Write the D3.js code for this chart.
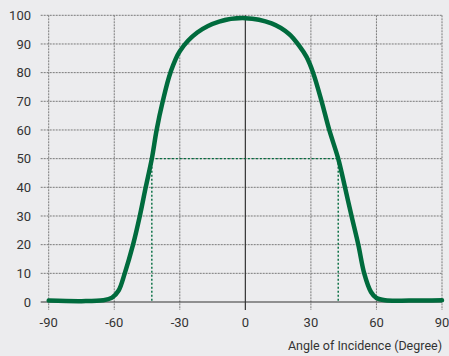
<!DOCTYPE html>
<html>
<head>
<meta charset="utf-8">
<script src="https://cdn.jsdelivr.net/npm/d3@7"></script>
<style>
  body { margin: 0; background: #ececee; }
  svg { display: block; font-family: Roboto, "DejaVu Sans Condensed", sans-serif; }
</style>
</head>
<body>
<svg id="svg1" width="449" height="356"></svg>
<script>
// angle of incidence (degree) and relative value (%)
var angles = [-90, -75, -65, -61, -58, -55.2, -51.4, -48.3, -45.6, -42.8, -40.6, -37.8, -34.3, -30, -22, -12, 0,
              12, 20, 25, 28, 31, 34.9, 38.4, 42.5, 45.6, 48.6, 51.7, 54.4, 57.5, 60, 64, 75, 90];
var values = [0.5, 0.3, 0.6, 1.5, 4, 10, 20, 30, 40, 50, 60, 70, 80, 87.5, 94, 97.8, 99,
              97.2, 93.5, 89, 85.5, 80, 70, 60, 50, 40, 30, 20, 10, 3.5, 1.4, 0.6, 0.5, 0.6];
var halfAngles = [-42.8, 42.5];   // where the curve crosses 50 %
var halfValue = 50;

var xTicks = [-90, -60, -30, 0, 30, 60, 90];
var yTicks = [0, 10, 20, 30, 40, 50, 60, 70, 80, 90, 100];
var xTitle = "Angle of Incidence (Degree)";

var green = "#006b3d";

var svg = d3.select("svg");

var x = d3.scaleLinear().domain([-90, 90]).range([48.7, 442]);
var y = d3.scaleLinear().domain([0, 100]).range([302, 15.3]);

// horizontal grid
svg.append("g").selectAll("line")
    .data(yTicks.filter(function(d){ return d > 0; }))
    .enter().append("line")
    .attr("x1", x(-90) - 8).attr("x2", x(90))
    .attr("y1", function(d){ return y(d); })
    .attr("y2", function(d){ return y(d); })
    .attr("stroke", "#7a7a7a")
    .attr("stroke-width", 1)
    .attr("stroke-dasharray", "2,1");

// vertical grid
svg.append("g").selectAll("line")
    .data(xTicks.filter(function(d){ return d != 0; }))
    .enter().append("line")
    .attr("x1", function(d){ return x(d); })
    .attr("x2", function(d){ return x(d); })
    .attr("y1", y(100)).attr("y2", y(0) + 8)
    .attr("stroke", "#7a7a7a")
    .attr("stroke-width", 1)
    .attr("stroke-dasharray", "2,1");

// zero lines
svg.append("line")
    .attr("x1", x(-90) - 8).attr("x2", x(90))
    .attr("y1", y(0)).attr("y2", y(0))
    .attr("stroke", "#333").attr("stroke-width", 1.2);
svg.append("line")
    .attr("x1", x(0)).attr("x2", x(0))
    .attr("y1", y(100)).attr("y2", y(0) + 8)
    .attr("stroke", "#333").attr("stroke-width", 1.2);

// tick labels
svg.append("g").selectAll("text")
    .data(yTicks)
    .enter().append("text")
    .attr("x", 31)
    .attr("y", function(d){ return y(d); })
    .attr("dy", "0.36em")
    .attr("text-anchor", "end")
    .attr("font-size", "13px")
    .attr("fill", "#333")
    .text(function(d){ return d; });

svg.append("g").selectAll("text")
    .data(xTicks)
    .enter().append("text")
    .attr("x", function(d){ return x(d); })
    .attr("y", 327)
    .attr("text-anchor", "middle")
    .attr("font-size", "13px")
    .attr("fill", "#333")
    .text(function(d){ return d; });

svg.append("text")
    .attr("x", 442)
    .attr("y", 350)
    .attr("text-anchor", "end")
    .attr("font-size", "12.5px")
    .attr("fill", "#333")
    .text(xTitle);

// 50 % markers
svg.append("line")
    .attr("x1", x(halfAngles[0])).attr("x2", x(halfAngles[1]))
    .attr("y1", y(halfValue)).attr("y2", y(halfValue))
    .attr("stroke", green).attr("stroke-width", 1.4)
    .attr("stroke-dasharray", "2,2");
svg.append("g").selectAll("line")
    .data(halfAngles)
    .enter().append("line")
    .attr("x1", function(d){ return x(d); })
    .attr("x2", function(d){ return x(d); })
    .attr("y1", y(halfValue)).attr("y2", y(0))
    .attr("stroke", green).attr("stroke-width", 1.4)
    .attr("stroke-dasharray", "2,2");

// curve
var line = d3.line()
    .x(function(d, i){ return x(angles[i]); })
    .y(function(d){ return y(d); })
    .curve(d3.curveCatmullRom.alpha(0.5));

svg.append("path")
    .datum(values)
    .attr("d", line)
    .attr("fill", "none")
    .attr("stroke", green)
    .attr("stroke-width", 4.5)
    .attr("stroke-linejoin", "round")
    .attr("stroke-linecap", "round");
</script>
</body>
</html>
